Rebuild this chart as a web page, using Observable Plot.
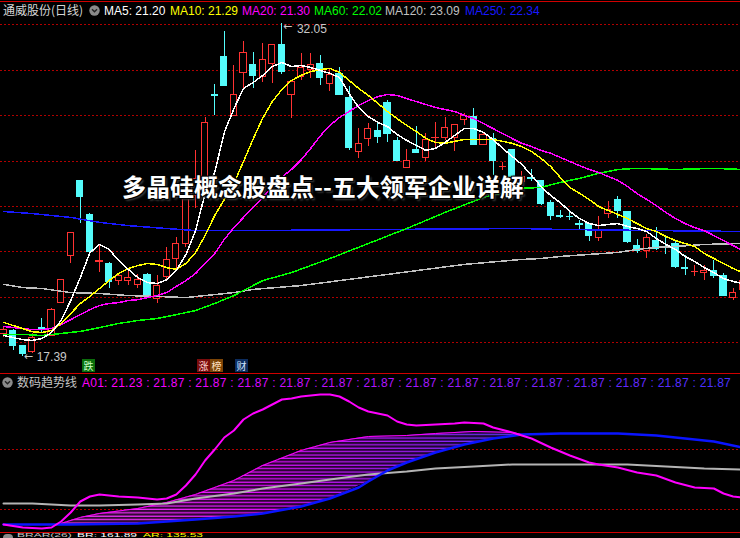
<!DOCTYPE html>
<html>
<head>
<meta charset="utf-8">
<script src="https://cdn.jsdelivr.net/npm/d3@7"></script>
<script src="https://cdn.jsdelivr.net/npm/@observablehq/plot@0.6"></script>
<style>
  html, body { margin: 0; padding: 0; background: #000; }
  #wrap { position: relative; width: 740px; height: 538px; overflow: hidden; background: #000;
          font-family: "Liberation Sans", Arial, sans-serif; }
  .abs { position: absolute; white-space: nowrap; line-height: 14px; }
  .cjk { font-family: "Noto Sans CJK SC", "Liberation Sans", sans-serif; }
  .hline { position: absolute; left: 0; width: 740px; height: 1px; background: #d00000; }
  .tag { position: absolute; width: 13px; height: 13px; font-size: 10px; line-height: 13px; text-align: center; }
  .mini { position: absolute; white-space: nowrap; top: 532.5px; font-size: 5px; line-height: 5px;
          transform: scaleX(2.4); transform-origin: 0 0; }
</style>
</head>
<body>
<div id="wrap"></div>
<script>
// ---- daily candles (index 0 = leftmost bar) ----
const open  = [18.39,18.54,17.85,17.58,18.65,18.32,19.76,21.80,25.14,23.63, 21.55,21.45,20.70,20.71,20.55,21.00,19.93,20.89,21.70,22.37,
               24.45,24.70,28.91,30.60,27.98,29.89,30.21,29.69,30.28,31.09, 28.92,29.69,29.99,30.28,29.40,29.84,28.77,26.39,26.98,27.31,
               28.55,26.87,25.70,26.50,26.14,27.00,27.01,27.01,27.82,27.96, 26.72,26.98,25.73,26.47,25.10,25.25,25.11,24.14,23.59,23.54,
               23.21,23.21,22.62,23.68,24.29,23.75,22.28,22.06,22.50,22.21, 22.33,21.28,21.11,21.06,21.18,20.92,19.98,20.33];
const high  = [18.67,18.60,17.87,18.40,19.05,19.50,20.80,22.85,25.14,23.68, 22.28,21.55,21.06,21.18,21.00,21.03,20.96,22.20,22.65,24.60,
               26.47,27.90,29.37,31.72,30.21,31.26,30.77,31.16,31.12,32.05, 29.50,30.72,30.72,30.65,30.06,30.13,29.30,27.45,27.67,27.64,
               28.67,27.05,26.50,27.52,27.20,27.71,27.90,27.57,28.08,28.30, 27.20,27.20,25.95,26.50,25.55,25.61,25.11,24.26,23.82,23.75,
               23.38,23.24,23.56,24.23,24.44,23.75,22.53,22.77,23.09,22.72, 22.50,21.84,21.40,21.40,21.62,21.06,20.37,20.80];
const low   = [18.24,17.66,17.39,17.52,18.40,18.30,19.72,21.50,23.26,21.95, 21.10,20.38,20.52,20.52,20.38,20.00,19.74,20.74,21.18,22.20,
               23.90,24.50,28.00,29.31,27.98,29.11,29.21,29.47,29.43,29.80, 27.86,29.55,29.62,29.33,29.06,28.89,26.47,26.13,26.64,26.76,
               26.83,26.02,25.70,26.33,25.99,26.54,26.91,26.42,27.57,26.69, 26.70,25.36,25.58,25.30,24.95,25.11,24.04,23.38,23.46,23.38,
               22.97,22.46,22.47,23.46,23.46,22.38,21.94,21.72,22.06,21.89, 21.26,20.96,20.92,20.74,20.82,20.08,19.86,20.30];
const close = [18.57,17.85,17.51,18.22,18.60,19.45,20.77,22.84,24.41,21.99, 21.58,20.67,20.96,20.86,20.77,20.04,20.48,21.65,22.33,24.41,
               25.20,27.68,28.87,29.31,28.89,30.77,29.74,30.43,31.12,29.91, 29.50,30.11,30.24,29.65,29.80,28.93,26.57,26.76,27.42,27.05,
               27.20,26.02,26.02,26.35,26.94,27.02,27.46,27.57,28.00,26.69, 27.17,26.02,25.75,25.32,25.30,25.23,24.12,23.60,23.56,23.52,
               23.20,22.68,22.94,23.85,23.79,22.43,22.06,22.62,22.14,22.19, 21.33,21.26,21.13,21.18,20.92,20.08,20.18,20.74];

// ---- moving averages ----
const ma5  = [18.32,18.23,18.14,18.10,18.19,18.45,18.98,19.86,20.87,21.97, 22.33,22.11,21.62,21.23,20.87,20.65,20.61,20.78,21.18,21.88,
              22.94,24.57,25.50,27.26,28.31,29.20,29.46,29.77,30.16,30.34, 30.16,30.21,30.12,29.99,29.86,29.68,28.97,28.36,27.96,27.70,
              27.52,27.17,26.91,26.69,26.47,26.56,26.82,27.13,27.43,27.43, 27.26,26.95,26.56,26.20,25.85,25.37,24.88,24.48,24.17,23.78,
              23.47,23.25,23.16,23.21,23.25,23.12,23.03,22.90,22.59,22.33, 22.11,21.80,21.58,21.31,21.09,20.83,20.70,20.61];
const ma10 = [18.90,18.76,18.63,18.49,18.45,18.54,18.85,19.29,19.73,20.04, 20.39,20.74,21.05,21.27,21.40,21.49,21.45,21.31,21.23,21.49,
              21.97,22.72,23.60,24.31,25.02,25.98,26.97,27.89,28.62,29.15, 29.55,29.77,29.94,30.03,30.08,29.90,29.55,29.20,28.89,28.54,
              28.18,27.87,27.57,27.30,27.00,26.82,26.78,26.87,26.95,26.95, 26.95,26.95,26.87,26.78,26.64,26.42,26.12,25.76,25.28,24.84,
              24.58,24.31,24.00,23.82,23.65,23.47,23.25,23.03,22.90,22.68, 22.50,22.37,22.24,21.93,21.71,21.49,21.27,21.09];
const ma20 = [18.72,18.67,18.63,18.58,18.58,18.63,18.80,19.02,19.24,19.46, 19.64,19.73,19.77,19.86,19.90,19.99,20.08,20.21,20.48,20.74,
              21.05,21.49,21.93,22.55,23.07,23.52,23.96,24.40,24.84,25.30, 25.63,26.05,26.56,27.11,27.57,27.92,28.18,28.45,28.67,28.84,
              28.93,28.89,28.75,28.62,28.49,28.36,28.27,28.18,28.01,27.87, 27.65,27.43,27.21,26.99,26.78,26.64,26.47,26.34,26.16,25.98,
              25.80,25.63,25.50,25.32,25.15,24.88,24.57,24.31,24.04,23.74, 23.47,23.25,23.07,22.94,22.72,22.50,22.28,22.06];
const ma60Idx  = [0,2,4,6,8,10,12,14,16,18,20,22,24,25,27,30,34,38,42,46,50,54,56,58,60,62,64,66,70,74,77];
const ma60     = [18.37,18.37,18.32,18.41,18.50,18.67,18.85,18.98,19.07,19.24,19.42,19.73,20.08,20.30,20.74,21.09,21.71,22.37,23.03,23.74,24.40,24.80,24.84,25.06,25.24,25.46,25.63,25.68,25.63,25.68,25.63];
const ma120Idx = [0,2,4,7,10,13,16,19,21,24,26,31,40,48,54,56,58,61,64,66,68,70,73,77];
const ma120    = [20.57,20.43,20.39,20.21,20.17,20.08,20.04,19.99,20.08,20.21,20.35,20.52,21.01,21.45,21.67,21.71,21.80,21.89,21.98,22.11,22.20,22.24,22.33,22.37];
const ma250Idx = [0,3,7,10,13,17,20,26,40,54,58,68,77];
const ma250    = [23.78,23.69,23.52,23.30,23.16,23.03,22.94,22.94,22.99,23.03,22.99,22.94,22.90];

const priceGrid = [18, 20, 22, 24, 26, 28, 30, 32];

// ---- header texts ----
const stockTitle = "通威股份(日线)";
const maNames  = ["MA5", "MA10", "MA20", "MA60", "MA120", "MA250"];
const maLatest = ["21.20", "21.29", "21.30", "22.02", "23.09", "22.34"];
const headline = "多晶硅概念股盘点--五大领军企业详解";
const eventTags = ["跌", "涨", "榜", "财"];

// ---- 数码趋势线 panel ----
const trendName = "数码趋势线";
const a01Label = "A01";
const a01Latest = "21.23";
const fanLatest = ["21.87","21.87","21.87","21.87","21.87","21.87","21.87","21.87","21.87","21.87","21.87","21.87","21.87","21.87"];
const a01Idx = [0,2,4,5,6,7,8,9,10,12,14,16,17,18,19,20,21,22,23,24,25,26,27,28,29,30,31,32,33,34,35,36,37,38,39,40,
                41,42,43,45,47,48,50,51,53,55,57,59,61,62,64,66,68,70,72,74,75,76,77];
const a01    = [20.96,20.93,20.92,20.93,20.99,21.08,21.19,21.24,21.26,21.24,21.23,21.21,21.22,21.26,21.35,21.46,
                21.60,21.71,21.83,21.90,22.01,22.07,22.11,22.16,22.21,22.22,22.24,22.25,22.26,22.26,22.24,22.19,22.13,22.09,22.07,22.05,
                21.99,21.96,21.95,21.96,21.97,21.98,21.97,21.93,21.88,21.82,21.73,21.65,21.58,21.56,21.53,21.48,21.45,21.38,21.33,21.32,
                21.27,21.24,21.23];
const trendGrayIdx = [0,3,7,10,14,17,20,24,27,31,34,38,42,45,49,53,59,65,69,73,77];
const trendGray    = [21.17,21.17,21.15,21.15,21.16,21.17,21.22,21.27,21.32,21.37,21.41,21.46,21.49,21.52,21.54,21.56,21.56,21.56,21.54,21.52,21.51];
const trendBlueIdx = [0,7,14,20,24,27,31,34,37,38,40,42,45,48,51,54,58,64,68,71,74,77];
const trendBlue    = [20.96,20.96,20.97,21.01,21.04,21.07,21.14,21.22,21.33,21.39,21.50,21.58,21.68,21.76,21.82,21.86,21.87,21.87,21.85,21.82,21.79,21.73];
const fanIdx  = [6,8,10,14,17,20,24,27,31,34,38,42,45,49,53,54];
const fanTop  = [20.97,21.03,21.07,21.12,21.18,21.26,21.40,21.55,21.70,21.78,21.84,21.85,21.87,21.89,21.88,21.86];
const fanBase = [20.96,20.96,20.96,20.97,20.99,21.01,21.04,21.07,21.14,21.22,21.39,21.58,21.68,21.78,21.85,21.86];
const trendGrid = [21.11, 21.71];

const brarLabel = "BRAR(26)";
const brarValues = ["BR: 161.89", "AR: 135.53"];

// ---- drawing ----
const wrap = document.getElementById("wrap");
const UP = "#ff3232", DOWN = "#54fcfc", GRID = "#b00000";
const MA_COLORS = ["#ffffff", "#ffff00", "#ff00ff", "#00ff00", "#c0c0c0", "#1818ff"];
const NUM_FONT = "Liberation Sans, Arial, sans-serif";
const xDomain = [-0.3125, 76.77];

function el(tag, cls, css, html) {
  const e = document.createElement(tag);
  if (cls) e.className = cls;
  Object.assign(e.style, css || {});
  if (html != null) e.innerHTML = html;
  wrap.appendChild(e);
  return e;
}
function icon(left, top) {
  el("div", "abs", {left: left + "px", top: top + "px", lineHeight: "0"},
    `<svg width="11" height="11" viewBox="0 0 11 11"><circle cx="5.5" cy="5.5" r="5.2" fill="#8a8a8a"/>
     <path d="M3 4.3 L5.5 6.8 L8 4.3" stroke="#222" stroke-width="1.4" fill="none"/></svg>`);
}

const candles = open.map((o, i) => ({i, o, h: high[i], l: low[i], c: close[i]}));
const candleColor = d => d.c >= d.o ? UP : DOWN;
const pts = (idx, vals) => vals.map((v, k) => ({i: idx ? idx[k] : k, v}));

const mainPlot = Plot.plot({
  width: 740, height: 353, margin: 0,
  x: {domain: xDomain, axis: null},
  y: {domain: [16.648, 32.189], axis: null},
  color: {type: "identity"},
  style: {background: "#000", shapeRendering: "crispEdges"},
  marks: [
    Plot.ruleY(priceGrid, {stroke: GRID, strokeDasharray: "1.5,2.5"}),
    Plot.ruleX(candles, {x: "i", y1: "l", y2: "h", stroke: candleColor, clip: true}),
    Plot.rect(candles, {x1: d => d.i - 0.33, x2: d => d.i + 0.33, y1: "o", y2: "c",
      fill: d => d.c >= d.o ? "#000" : DOWN, stroke: candleColor, clip: true}),
    Plot.line(pts(ma250Idx, ma250), {x: "i", y: "v", stroke: MA_COLORS[5], clip: true}),
    Plot.line(pts(ma120Idx, ma120), {x: "i", y: "v", stroke: MA_COLORS[4], clip: true}),
    Plot.line(pts(ma60Idx, ma60),   {x: "i", y: "v", stroke: MA_COLORS[3], clip: true}),
    Plot.line(pts(null, ma20), {x: "i", y: "v", stroke: MA_COLORS[2], clip: true}),
    Plot.line(pts(null, ma10), {x: "i", y: "v", stroke: MA_COLORS[1], clip: true}),
    Plot.line(pts(null, ma5),  {x: "i", y: "v", stroke: MA_COLORS[0], clip: true}),
    // extreme price labels
    Plot.text([29], {x: d => d, y: d => high[d], text: () => "\u2190", textAnchor: "start", dx: 1, dy: 3,
      fill: "#c8c8c8", fontSize: 11, fontFamily: "DejaVu Sans"}),
    Plot.text([29], {x: d => d, y: d => high[d], text: d => high[d].toFixed(2), textAnchor: "start", dx: 15, dy: 5,
      fill: "#c8c8c8", fontSize: 12, fontFamily: NUM_FONT}),
    Plot.text([2], {x: d => d, y: d => low[d], text: () => "\u2190", textAnchor: "start", dx: 1, dy: 0,
      fill: "#c8c8c8", fontSize: 11, fontFamily: "DejaVu Sans"}),
    Plot.text([2], {x: d => d, y: d => low[d], text: d => low[d].toFixed(2), textAnchor: "start", dx: 14, dy: 1,
      fill: "#c8c8c8", fontSize: 12, fontFamily: NUM_FONT})
  ]
});
mainPlot.style.position = "absolute";
mainPlot.style.left = "0px";
mainPlot.style.top = "20px";
wrap.appendChild(mainPlot);

const fan = fanIdx.map((i, k) => ({i, top: fanTop[k], base: fanBase[k]}));
const trendPlot = Plot.plot({
  width: 740, height: 158, margin: 0,
  x: {domain: xDomain, axis: null},
  y: {domain: [20.88, 22.46], axis: null},
  style: {background: "#000"},
  marks: [
    Plot.ruleY(trendGrid, {stroke: GRID, strokeDasharray: "1.5,2.5", shapeRendering: "crispEdges"}),
    Plot.areaY(fan, {x: "i", y1: "base", y2: "top", fill: "url(#fanGrad)"}),
    Plot.areaY(fan, {x: "i", y1: "base", y2: "top", fill: "url(#fanStripes)"}),
    Plot.line(fan, {x: "i", y: "top", stroke: "#ff00ff", strokeWidth: 1}),
    Plot.line(pts(trendGrayIdx, trendGray), {x: "i", y: "v", stroke: "#b4b4b4", strokeWidth: 2}),
    Plot.line(pts(trendBlueIdx, trendBlue), {x: "i", y: "v", stroke: "#0a14ff", strokeWidth: 2.5}),
    Plot.line(pts(a01Idx, a01), {x: "i", y: "v", stroke: "#ff00ff", strokeWidth: 2})
  ]
});
const defs = d3.select(trendPlot).insert("defs", ":first-child");
const grad = defs.append("linearGradient").attr("id", "fanGrad").attr("x1", 0).attr("y1", 0).attr("x2", 1).attr("y2", 0);
[[0, "#ff40ff"], [0.45, "#e010ff"], [0.8, "#9a20ff"], [1, "#5a3aff"]].forEach(([o, c]) =>
  grad.append("stop").attr("offset", o).attr("stop-color", c));
const pat = defs.append("pattern").attr("id", "fanStripes").attr("patternUnits", "userSpaceOnUse")
  .attr("width", 8).attr("height", 3.4);
pat.append("rect").attr("x", 0).attr("y", 0).attr("width", 8).attr("height", 2.2).attr("fill", "#000").attr("fill-opacity", 0.8);
trendPlot.style.position = "absolute";
trendPlot.style.left = "0px";
trendPlot.style.top = "374px";
wrap.appendChild(trendPlot);

// ---- frame lines ----
el("div", "hline", {top: "1px"});
el("div", "hline", {top: "373px"});
el("div", "hline", {top: "532px"});

// ---- top header ----
el("div", "abs cjk", {left: "3px", top: "3px", fontSize: "12px", color: "#d6d6d6"}, stockTitle);
icon(89, 5);
const maLeft = [104, 170, 242, 314, 385, 465];
maNames.forEach((n, k) => el("div", "abs", {left: maLeft[k] + "px", top: "4px", fontSize: "12px", color: MA_COLORS[k]},
  `${n}: ${maLatest[k]}`));

// ---- headline over the chart ----
el("div", "abs cjk", {left: "0px", width: "646px", textAlign: "center", top: "171px", fontSize: "24px", lineHeight: "30px",
  fontWeight: "700", color: "#fff",
  textShadow: "-1px -1px 0 #000, 1px -1px 0 #000, -1px 1px 0 #000, 1px 1px 0 #000, 0 0 3px #000, 2px 2px 2px #444"}, headline);

// ---- event tags under the bars ----
const tagStyle = [
  {left: "82px", background: "#0b6e0b", color: "#c8ffc8"},
  {left: "197px", background: "#7a0c0c", color: "#ffd0d0"},
  {left: "210px", background: "#7c4406", color: "#ffe0c0"},
  {left: "235px", background: "#0c2c5e", color: "#d0e4ff"}
];
eventTags.forEach((t, k) => el("div", "tag cjk", Object.assign({top: "359px"}, tagStyle[k]), t));

// ---- indicator header ----
icon(2, 377);
el("div", "abs cjk", {left: "17px", top: "375px", fontSize: "12px", color: "#c4c4c4"}, trendName);
const mix = d3.interpolateRgb("#ff00ff", "#4a30ff");
let hdr = `<span style="color:${mix(0)}">${a01Label}: ${a01Latest}</span>`;
fanLatest.forEach((v, k) => { hdr += `<span style="color:${mix((k + 1) / fanLatest.length)}"> : ${v}</span>`; });
el("div", "abs", {left: "82px", top: "376px", fontSize: "12px", letterSpacing: "0.25px"}, hdr);

// ---- bottom (BRAR) strip: a squat row that fits the last few pixels ----
el("div", "abs", {left: "3px", top: "534px", width: "10px", height: "4px", background: "#8a8a8a", borderRadius: "5px 5px 0 0"});
el("div", "mini", {left: "17px", color: "#c4c4c4"}, brarLabel);
el("div", "mini", {left: "77px", color: "#ffffff"}, brarValues[0]);
el("div", "mini", {left: "143px", color: "#ffff00"}, brarValues[1]);
</script>
</body>
</html>
